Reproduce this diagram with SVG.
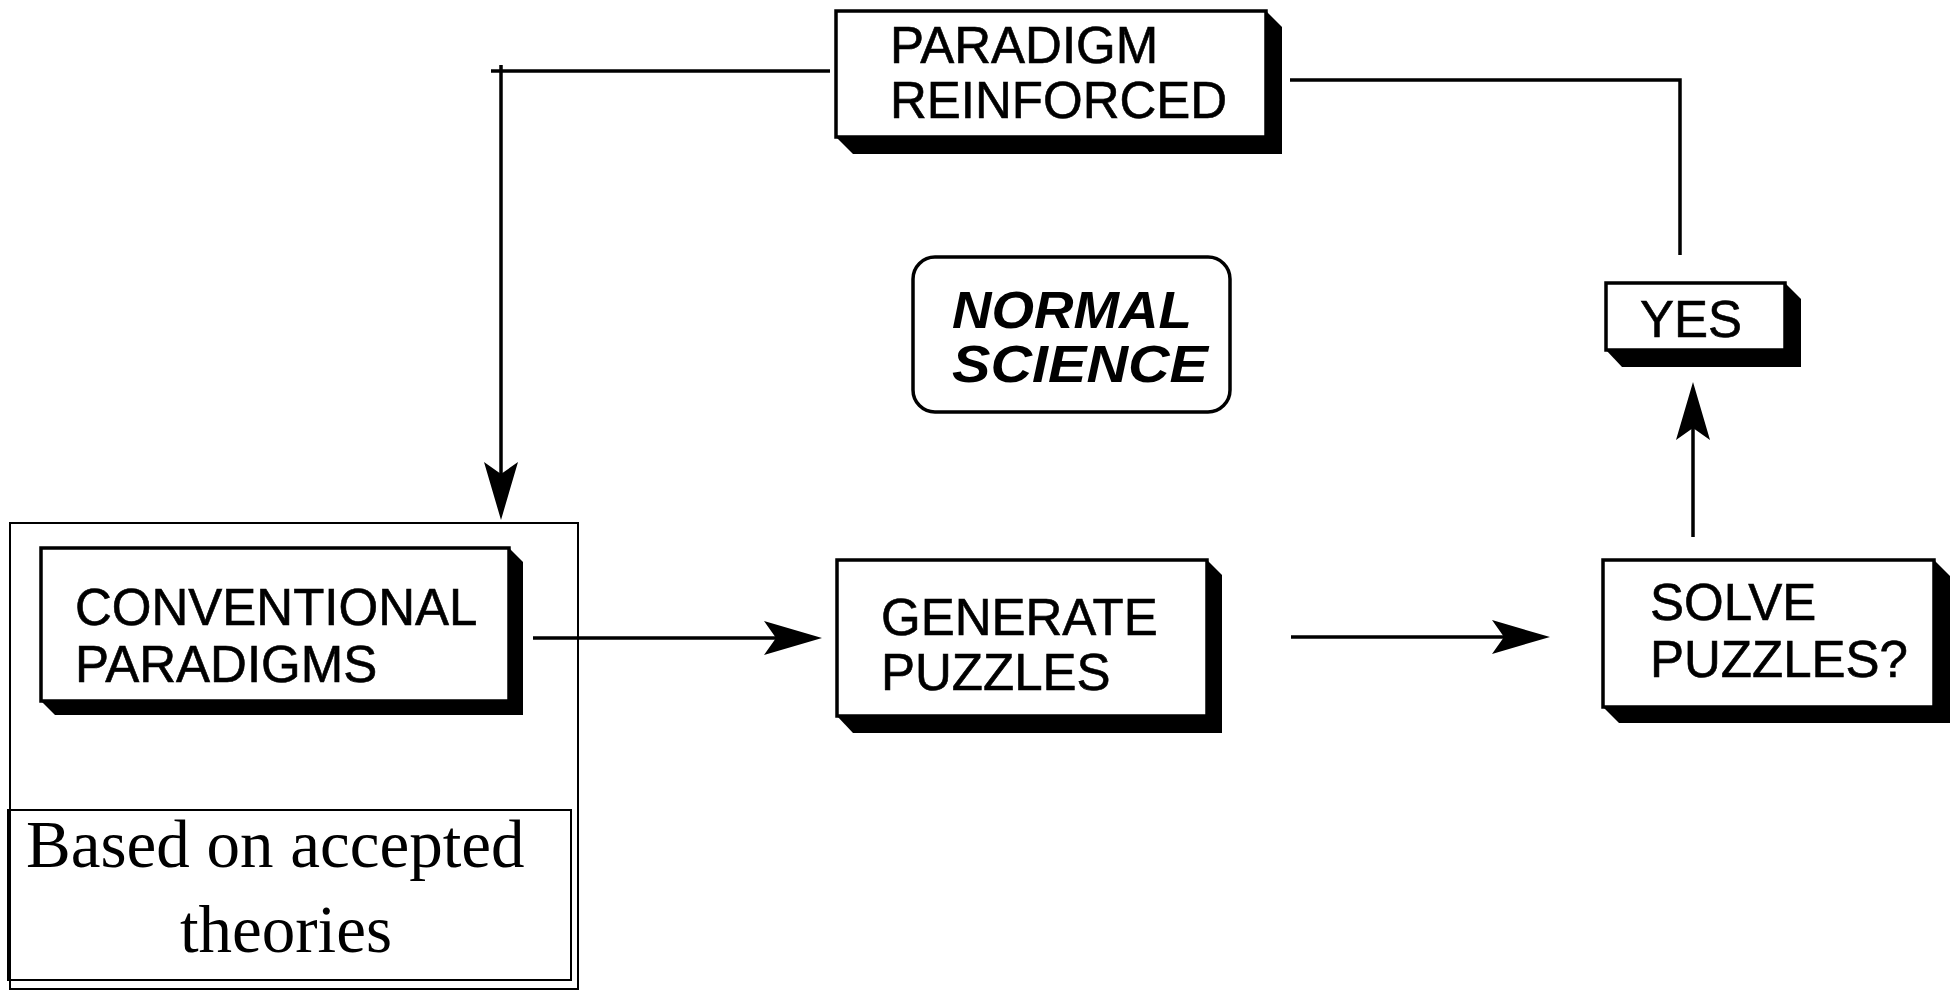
<svg xmlns="http://www.w3.org/2000/svg" width="1954" height="994" viewBox="0 0 1954 994">
<style>
.box{fill:#fff;stroke:#000;stroke-width:3.5}
.sh{fill:#000}
.t{font-family:"Liberation Sans",Arial,sans-serif;font-size:51px;fill:#000;stroke:#000;stroke-width:0.6}
.ti{font-family:"Liberation Sans",Arial,sans-serif;font-size:52px;font-weight:bold;font-style:italic;fill:#000}
.tr{font-family:"Liberation Serif","Times New Roman",serif;font-size:67px;fill:#000}
.c{fill:none;stroke:#000;stroke-width:3.5}
.thin{fill:none;stroke:#000;stroke-width:2}
</style>
<defs>
<marker id="arr" markerUnits="userSpaceOnUse" markerWidth="60" markerHeight="36" refX="12" refY="17" orient="auto" overflow="visible">
<path d="M0,0 L58,17 L0,34 L12,17 Z" fill="#000"/>
</marker>
</defs>
<rect width="1954" height="994" fill="#fff"/>

<g id="outer-group">
<rect class="thin" x="10" y="523" width="568" height="466"/>
</g>

<g id="based-on">
<rect class="thin" x="8" y="810" width="563" height="170"/>
<text class="tr" x="26" y="867">Based on accepted</text>
<text class="tr" x="286" y="952" text-anchor="middle">theories</text>
</g>

<g id="conventional">
<polygon class="sh" points="509,548 523,562 523,715 55,715 41,701"/>
<rect class="box" x="41" y="548" width="468" height="153"/>
<text class="t" x="75" y="625">CONVENTIONAL</text>
<text class="t" x="75" y="682">PARADIGMS</text>
</g>

<g id="paradigm">
<polygon class="sh" points="1266,11 1282,27 1282,154 853,154 836,137"/>
<rect class="box" x="836" y="11" width="430" height="126"/>
<text class="t" x="890" y="63">PARADIGM</text>
<text class="t" x="890" y="118">REINFORCED</text>
</g>

<g id="normal-science">
<rect class="box" x="913" y="257" width="317" height="155" rx="22" ry="22"/>
<text class="ti" x="952" y="328" textLength="240" lengthAdjust="spacingAndGlyphs">NORMAL</text>
<text class="ti" x="952" y="382" textLength="256" lengthAdjust="spacingAndGlyphs">SCIENCE</text>
</g>

<g id="yes">
<polygon class="sh" points="1785,283 1801,299 1801,367 1622,367 1606,350"/>
<rect class="box" x="1606" y="283" width="179" height="67"/>
<text class="t" x="1640" y="337">YES</text>
</g>

<g id="generate">
<polygon class="sh" points="1207,560 1222,575 1222,733 853,733 837,716"/>
<rect class="box" x="837" y="560" width="370" height="156"/>
<text class="t" x="881" y="635">GENERATE</text>
<text class="t" x="881" y="690">PUZZLES</text>
</g>

<g id="solve">
<polygon class="sh" points="1934,560 1950,576 1950,723 1619,723 1603,707"/>
<rect class="box" x="1603" y="560" width="331" height="147"/>
<text class="t" x="1650" y="620">SOLVE</text>
<text class="t" x="1650" y="677">PUZZLES?</text>
</g>

<g id="connectors">
<path class="c" d="M491,71 L830,71"/>
<path class="c" d="M501,65 L501,474" marker-end="url(#arr)"/>
<path class="c" d="M1290,80 L1680,80 L1680,255"/>
<path class="c" d="M533,638 L776,638" marker-end="url(#arr)"/>
<path class="c" d="M1291,637 L1504,637" marker-end="url(#arr)"/>
<path class="c" d="M1693,537 L1693,428" marker-end="url(#arr)"/>
</g>
</svg>
